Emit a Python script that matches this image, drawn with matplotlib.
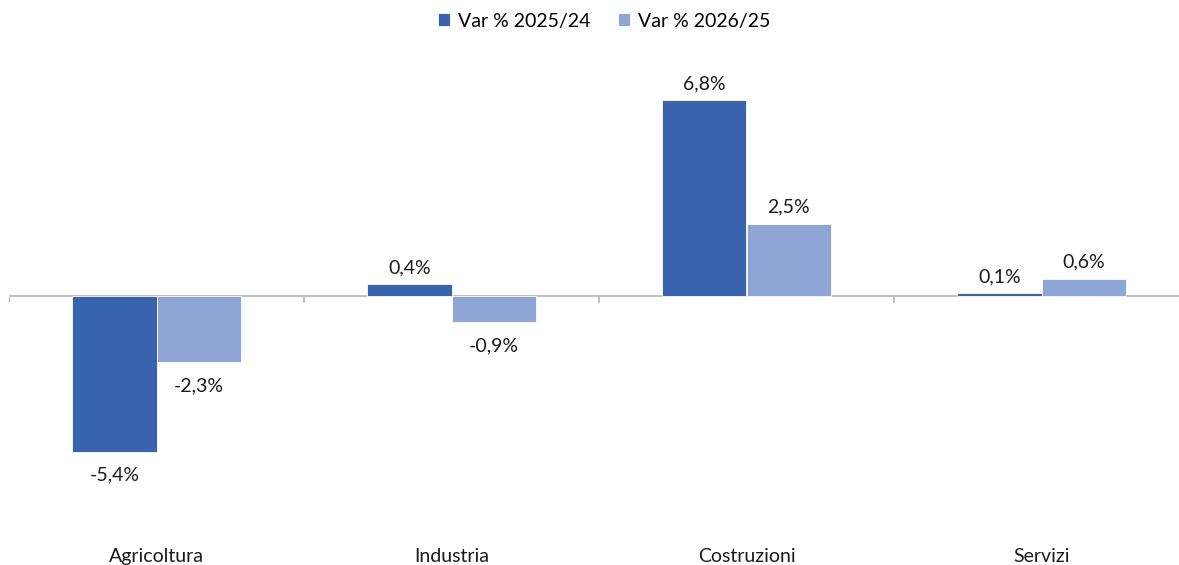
import numpy as np
import matplotlib.pyplot as plt

plt.rcParams['font.family'] = ['Lato', 'DejaVu Sans']

settori = ['Agricoltura', 'Industria', 'Costruzioni', 'Servizi']
var_2025 = [-5.4, 0.4, 6.8, 0.1]
var_2026 = [-2.3, -0.9, 2.5, 0.6]
serie = ['Var % 2025/24', 'Var % 2026/25']

col_scuro = '#3A63AD'
col_chiaro = '#8FA5D5'

W, H = 1179, 565
fig = plt.figure(figsize=(W / 100, H / 100), dpi=100)
# axes: left at 10px, category width 295px, top 50px, bottom 540px
ax = fig.add_axes([9 / W, (H - 540) / H, 1180 / W, 490 / H])

x = np.arange(len(settori))
w = 0.285
b1 = ax.bar(x - w / 2, var_2025, w, color=col_scuro, edgecolor='white', linewidth=0.6, label=serie[0])
b2 = ax.bar(x + w / 2, var_2026, w, color=col_chiaro, edgecolor='white', linewidth=0.6, label=serie[1])

for bars, vals in [(b1, var_2025), (b2, var_2026)]:
    for rect, v in zip(bars, vals):
        testo = f'{v:.1f}%'.replace('.', ',')
        off = 12 if v >= 0 else -17
        ax.annotate(testo, (rect.get_x() + rect.get_width() / 2, v),
                    xytext=(0, off), textcoords='offset points',
                    ha='center', va='center', fontsize=14, color='#1a1a1a')

ax.set_xlim(-0.5, 3.5)
ax.set_ylim(-8.47, 8.54)
ax.axhline(0, color='#BFBFBF', linewidth=1.4, zorder=0)

# tick marks at category boundaries
for bx in np.arange(-0.5, 4, 1):
    ax.plot([bx, bx], [0, -0.22], color='#BFBFBF', linewidth=1.4, zorder=0)

for s in ax.spines.values():
    s.set_visible(False)
ax.set_yticks([])
ax.set_xticks(x)
ax.set_xticklabels(settori, fontsize=14, color='#1a1a1a')
ax.tick_params(axis='x', length=0, pad=6)

fig.legend(handles=[b1, b2], labels=serie, loc='center', bbox_to_anchor=(604 / W, 1 - 21 / H),
           ncol=2, frameon=False, fontsize=14, handlelength=0.65, handleheight=0.65,
           handletextpad=0.4, columnspacing=1.4)

fig.savefig('out.png', dpi=100)
